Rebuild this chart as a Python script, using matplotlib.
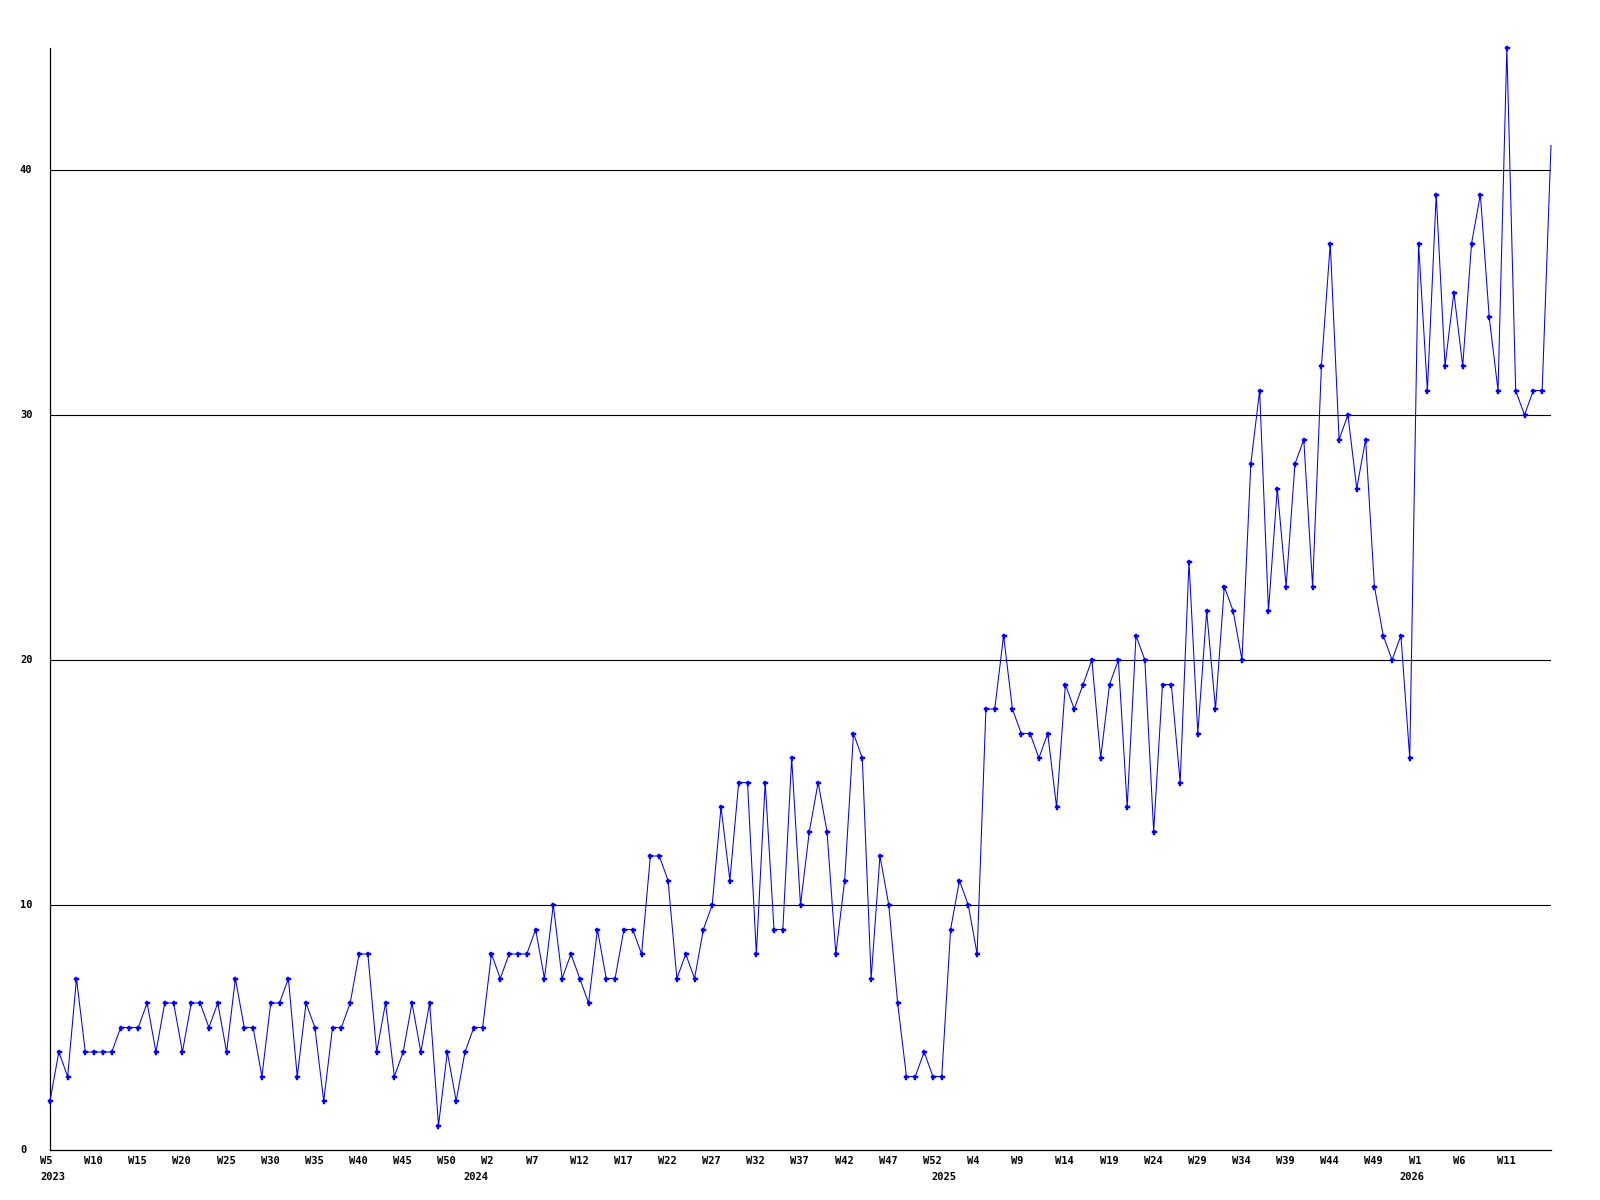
import matplotlib
matplotlib.use("Agg")
import matplotlib.pyplot as plt
import matplotlib.transforms as mtransforms

# Weekly values, 2023 W5 onwards
values = [
    2, 4, 3, 7, 4, 4, 4, 4, 5, 5, 5, 6, 4, 6, 6, 4, 6, 6, 5, 6, 4, 7, 5, 5, 3, 6, 6, 7, 3, 6, 5,
    2, 5, 5, 6, 8, 8, 4, 6, 3, 4, 6, 4, 6, 1, 4, 2, 4, 5, 5, 8, 7, 8, 8, 8, 9, 7, 10, 7, 8, 7,
    6, 9, 7, 7, 9, 9, 8, 12, 12, 11, 7, 8, 7, 9, 10, 14, 11, 15, 15, 8, 15, 9, 9, 16, 10, 13, 15,
    13, 8, 11, 17, 16, 7, 12, 10, 6, 3, 3, 4, 3, 3, 9, 11, 10, 8, 18, 18,
    21, 18, 17, 17, 16, 17, 14, 19, 18, 19, 20, 16, 19, 20, 14, 21, 20, 13, 19, 19, 15, 24, 17, 22, 18,
    23, 22, 20, 28, 31, 22, 27, 23, 28, 29, 23, 32, 37, 29, 30, 27, 29, 23, 21, 20, 21,
    16, 37, 31, 39, 32, 35, 32, 37, 39, 34, 31, 45, 31, 30, 31, 31, 41,
]

week_tick_labels = [
    "W5", "W10", "W15", "W20", "W25", "W30", "W35", "W40", "W45", "W50",
    "W2", "W7", "W12", "W17", "W22", "W27", "W32", "W37", "W42", "W47", "W52",
    "W4", "W9", "W14", "W19", "W24", "W29", "W34", "W39", "W44", "W49",
    "W1", "W6", "W11",
]
week_tick_step = 5

year_labels = ["2023", "2024", "2025", "2026"]
year_first_index = [0, 48, 101, 154]

y_ticks = [0, 10, 20, 30, 40]
y_max = 45

FONT = dict(family="DejaVu Sans Mono", weight="bold", size=7.5, color="black")

fig = plt.figure(figsize=(16, 12), dpi=100)
fig.patch.set_facecolor("white")
ax = fig.add_axes([50 / 1600, 50 / 1200, (1551 - 50) / 1600, (1150 - 47.5) / 1200])
ax.set_facecolor("white")

x = list(range(len(values)))
ax.plot(x, values, color="#0000ff", lw=0.75, zorder=3, clip_on=False)
ax.plot(x[:-1], values[:-1], linestyle="none", marker="P", ms=3.6,
        color="#0000ff", mec="#0000ff", mew=0.3, zorder=4, clip_on=False)

ax.set_xlim(0, len(values) - 1)
ax.set_ylim(0, y_max)

for v in y_ticks[1:]:
    ax.axhline(v, color="black", lw=0.8, zorder=1)

for s in ("top", "right"):
    ax.spines[s].set_visible(False)
for s in ("left", "bottom"):
    ax.spines[s].set_color("black")
    ax.spines[s].set_linewidth(0.9)
    ax.spines[s].set_zorder(2)

ax.set_xticks([])
ax.set_yticks([])

# y labels (left aligned, ~30px left of axis)
ytrans = mtransforms.blended_transform_factory(ax.transAxes, ax.transData) + \
    mtransforms.ScaledTranslation(-0.30, 0, fig.dpi_scale_trans)
for v in y_ticks:
    ax.text(0, v, str(v), transform=ytrans, ha="left", va="center", **FONT)

# week labels
wtrans = mtransforms.blended_transform_factory(ax.transData, ax.transAxes) + \
    mtransforms.ScaledTranslation(-0.10, -0.065, fig.dpi_scale_trans)
for i, lab in enumerate(week_tick_labels):
    ax.text(i * week_tick_step, 0, lab, transform=wtrans, ha="left", va="top", **FONT)

# year labels
ytrans2 = mtransforms.blended_transform_factory(ax.transData, ax.transAxes) + \
    mtransforms.ScaledTranslation(-0.10, -0.215, fig.dpi_scale_trans)
for idx, lab in zip(year_first_index, year_labels):
    ax.text(idx, 0, lab, transform=ytrans2, ha="left", va="top", **FONT)

fig.savefig("out.png", dpi=100, facecolor="white")
